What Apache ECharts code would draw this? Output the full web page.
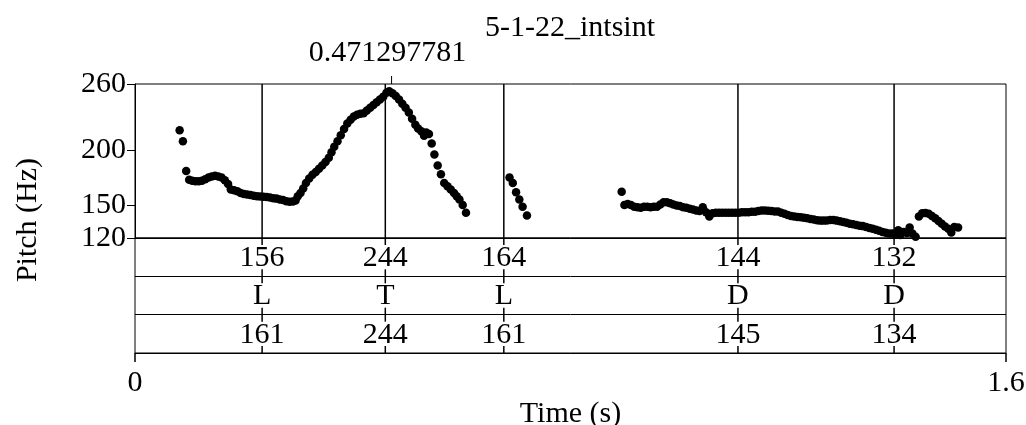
<!DOCTYPE html>
<html>
<head>
<meta charset="utf-8">
<title>5-1-22_intsint</title>
<script src="https://cdn.jsdelivr.net/npm/echarts@6/dist/echarts.min.js"></script>
<style>
  html, body { margin: 0; padding: 0; background: #fff; }
  #main { width: 1026px; height: 425px; }
</style>
</head>
<body>
<div id="main"></div>
<script>
// pitch track [time (s), f0 (Hz)], one list per voiced stretch
var pitchSeg1 = [
  [0.082,218],[0.088,208],[0.094,181],[0.0995,173],[0.105,172],[0.111,171.5],[0.117,171.5],
  [0.123,172],[0.129,173.5],[0.135,175],[0.141,176],[0.147,176.5],[0.153,176],[0.159,175],
  [0.165,172.5],[0.171,169],[0.176,164],[0.182,163.5],[0.188,162.5],[0.194,161],[0.200,160],
  [0.206,159.5],[0.212,159],[0.218,158.5],[0.224,158],[0.230,157.8],[0.236,157.5],[0.242,157.2],
  [0.248,156.8],[0.254,156.2],[0.260,155.8],[0.266,155],[0.272,154.5],[0.278,153.5],[0.284,153],
  [0.290,153.2],[0.295,154],[0.299,158],[0.304,161],[0.309,165],[0.314,170],[0.320,174],
  [0.326,177.5],[0.332,180],[0.338,183],[0.344,186],[0.350,189],[0.356,193],[0.361,198],
  [0.366,203],[0.372,208],[0.378,213.5],[0.384,219],[0.390,224],[0.396,227.5],[0.402,230.5],
  [0.408,232],[0.414,233],[0.420,233.5],[0.426,236],[0.432,238.5],[0.438,241],[0.444,243.5],
  [0.450,246],[0.456,248.5],[0.462,252],[0.467,253.5],[0.473,251.5],[0.479,249],[0.485,246],
  [0.491,242],[0.497,238.5],[0.503,234],[0.509,228.5],[0.515,223],[0.520,219.5],[0.526,217],
  [0.531,213],[0.535,216],[0.540,214.5],[0.545,206],[0.550,196],[0.556,186],[0.562,178],
  [0.568,170],[0.574,167],[0.580,164],[0.586,161],[0.591,158],[0.596,155],[0.602,150],[0.608,143]
];
var pitchSeg2 = [
  [0.688,175],[0.694,170],[0.700,161.5],[0.706,155],[0.712,148.5],[0.720,140.5]
];
var pitchSeg3 = [
  [0.894,162],[0.899,150],[0.905,151],[0.911,150],[0.917,148.5],[0.923,148],[0.929,147.5],
  [0.935,148.5],[0.941,148.5],[0.947,148],[0.953,148.5],[0.959,148.5],[0.965,150.5],[0.971,152.5],
  [0.977,152.5],[0.983,151.5],[0.989,150.5],[0.995,149.5],[1.001,149],[1.007,148],[1.013,147.5],
  [1.019,146.5],[1.025,146],[1.031,145],[1.037,144.5],[1.043,148],[1.049,143.5],[1.055,139.5],
  [1.061,142.5],[1.067,143],[1.073,143],[1.079,143],[1.085,143],[1.091,143],[1.097,143],
  [1.103,143],[1.109,143],[1.115,143.5],[1.121,143.5],[1.127,143.5],[1.133,143.8],[1.139,143.8],
  [1.145,144.5],[1.151,145],[1.157,145],[1.163,144.8],[1.169,144.5],[1.175,144.2],[1.181,144],
  [1.187,143],[1.193,142],[1.199,141],[1.205,140],[1.211,139.5],[1.217,139],[1.223,138.8],
  [1.229,138.5],[1.235,138],[1.241,137.2],[1.247,136.8],[1.253,136.2],[1.259,135.8],[1.265,135.8],
  [1.271,136],[1.277,136.3],[1.283,136.3],[1.289,135.8],[1.295,135.2],[1.301,134.5],[1.307,133.8],
  [1.313,133],[1.319,132.5],[1.325,131.8],[1.331,131.2],[1.337,130.8],[1.343,130],[1.349,129.2],
  [1.355,128.5],[1.361,127.5],[1.367,126.5],[1.373,125.5],[1.379,124.8],[1.385,124.2],[1.391,124],
  [1.397,123.8],[1.402,127],[1.406,122.8],[1.412,125.5],[1.418,124.5],[1.423,129.5],[1.428,124],
  [1.434,121.2]
];
var pitchSeg4 = [
  [1.440,139.5],[1.446,142.5],[1.452,142.8],[1.458,142],[1.464,140],[1.470,138],[1.476,135.5],
  [1.482,133],[1.488,130.5],[1.494,128.5],[1.4995,125],[1.505,130],[1.512,129.5]
];

// label points and the three text tiers under the pitch panel
var labelTimes = [0.2335, 0.4598, 0.6775, 1.1076, 1.3944];
var tierTargets = ['156', '244', '164', '144', '132'];
var tierTones = ['L', 'T', 'L', 'D', 'D'];
var tierValues = ['161', '244', '161', '145', '134'];
var tierRows = [tierTargets, tierTones, tierValues];

var pitchTicks = [120, 150, 200, 260];
var timeMin = 0, timeMax = 1.6;
var cursorTime = 0.471297781;
var cursorLabel = '0.471297781';

var FONT = 'Liberation Serif';
var FS = 30;

var tierData = [];
tierRows.forEach(function (row, r) {
  row.forEach(function (txt, i) { tierData.push([labelTimes[i], r, i]); });
});

function drawTier(params, api) {
  var t = api.value(0), r = api.value(1), i = api.value(2);
  var top = api.coord([t, 3 - r]);
  var bot = api.coord([t, 2 - r]);
  var st = { stroke: '#000', lineWidth: 1.5 };
  return {
    type: 'group',
    children: [
      { type: 'line', shape: { x1: top[0], y1: top[1], x2: top[0], y2: top[1] + 7 }, style: st },
      { type: 'line', shape: { x1: bot[0], y1: bot[1] - 7, x2: bot[0], y2: bot[1] }, style: st },
      { type: 'text', x: top[0], y: (top[1] + bot[1]) / 2 + 1,
        style: { text: tierRows[r][i], fill: '#000', fontFamily: FONT, fontSize: FS,
                 align: 'center', verticalAlign: 'middle' } }
    ]
  };
}

function drawLabelLine(params, api) {
  var t = api.value(0);
  var a = api.coord([t, 260]);
  var b = api.coord([t, 120]);
  return { type: 'line', shape: { x1: a[0], y1: a[1], x2: b[0], y2: b[1] },
           style: { stroke: '#000', lineWidth: 1.5 } };
}

function drawCursor(params, api) {
  var p = api.coord([api.value(0), 260]);
  return {
    type: 'group',
    children: [
      { type: 'line', shape: { x1: p[0], y1: p[1], x2: p[0], y2: p[1] - 8 },
        style: { stroke: '#000', lineWidth: 1 } },
      { type: 'text', x: p[0] - 4, y: p[1] - 31,
        style: { text: cursorLabel, fill: '#000', fontFamily: FONT, fontSize: FS,
                 align: 'center', verticalAlign: 'middle' } }
    ]
  };
}

var chart = echarts.init(document.getElementById('main'));
var option = {
  animation: false,
  backgroundColor: '#fff',
  title: {
    text: '5-1-22_intsint',
    left: 570, top: 13, padding: 0, textAlign: 'center',
    textStyle: { fontFamily: FONT, fontSize: FS, fontWeight: 'normal', color: '#000' }
  },
  graphic: [{
    type: 'text', x: 28, y: 220, rotation: Math.PI / 2,
    style: { text: 'Pitch (Hz)', fill: '#000', fontFamily: FONT, fontSize: FS,
             align: 'center', verticalAlign: 'middle' }
  }],
  grid: [
    { left: 135, top: 84, width: 871, height: 154, outerBoundsMode: 'none',
      show: true, borderColor: '#000', borderWidth: 1 },
    { left: 135, top: 238, width: 871, height: 115, outerBoundsMode: 'none',
      show: true, borderColor: '#000', borderWidth: 1 }
  ],
  xAxis: [
    { gridIndex: 0, type: 'value', min: timeMin, max: timeMax, show: false },
    { gridIndex: 1, type: 'value', min: timeMin, max: timeMax, interval: 1.6,
      axisLine: { lineStyle: { color: '#000', width: 1 } },
      axisTick: { length: 9, lineStyle: { color: '#000', width: 1.5 } },
      splitLine: { show: false },
      axisLabel: { color: '#000', fontFamily: FONT, fontSize: FS, margin: 15 },
      name: 'Time (s)', nameLocation: 'middle', nameGap: 44,
      nameTextStyle: { color: '#000', fontFamily: FONT, fontSize: FS } }
  ],
  yAxis: [
    { gridIndex: 0, type: 'value', min: 120, max: 260,
      axisLine: { show: true, lineStyle: { color: '#000', width: 1 } },
      axisTick: { show: true, length: 8, customValues: pitchTicks, lineStyle: { color: '#000' } },
      axisLabel: { customValues: pitchTicks, color: '#000', fontFamily: FONT, fontSize: FS, margin: 9 },
      splitLine: { show: false } },
    { gridIndex: 1, type: 'value', min: 0, max: 3, interval: 1,
      axisLine: { show: false }, axisTick: { show: false }, axisLabel: { show: false },
      splitLine: { show: true, lineStyle: { color: '#000', width: 1 } } }
  ],
  series: [
    { type: 'custom', xAxisIndex: 0, yAxisIndex: 0, renderItem: drawLabelLine,
      data: labelTimes.map(function (t) { return [t]; }), silent: true },
    { type: 'scatter', xAxisIndex: 0, yAxisIndex: 0, symbol: 'circle', symbolSize: 8.5,
      itemStyle: { color: '#000', opacity: 1 },
      data: pitchSeg1.concat(pitchSeg2, pitchSeg3, pitchSeg4) },
    { type: 'custom', xAxisIndex: 0, yAxisIndex: 0, renderItem: drawCursor,
      data: [[cursorTime]], silent: true },
    { type: 'custom', xAxisIndex: 1, yAxisIndex: 1, renderItem: drawTier,
      data: tierData, silent: true }
  ]
};
chart.setOption(option);
</script>
</body>
</html>
